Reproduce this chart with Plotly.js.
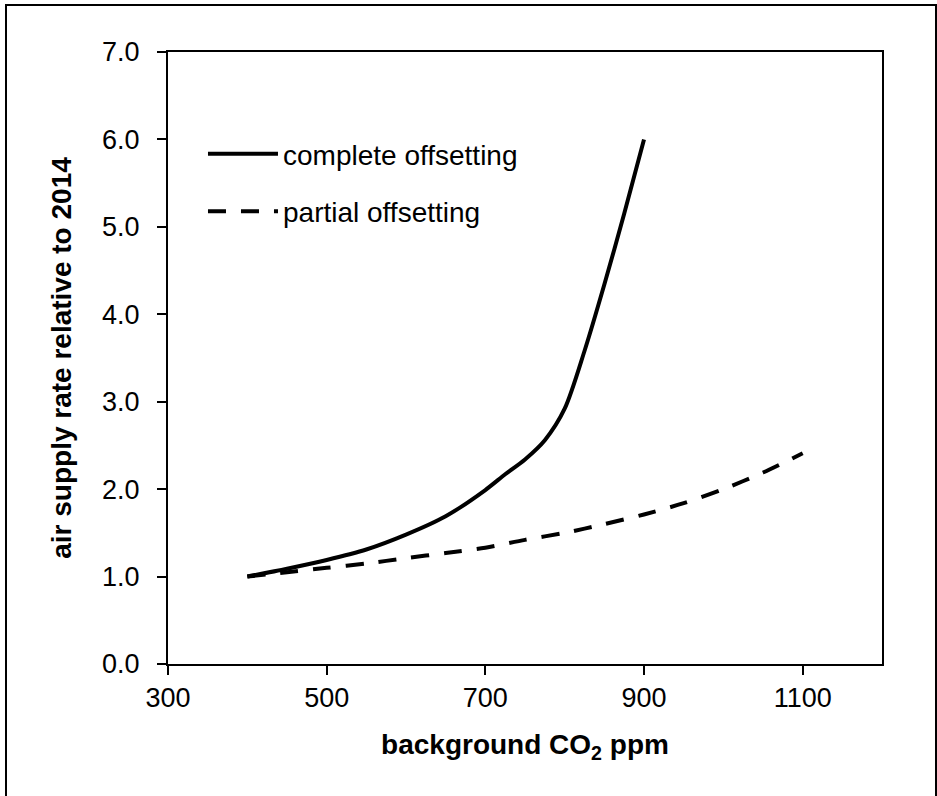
<!DOCTYPE html>
<html>
<head>
<meta charset="utf-8">
<script src="https://cdn.plot.ly/plotly-3.0.1.min.js"></script>
<style>
html,body{margin:0;padding:0;background:#fff;}
#wrap{position:relative;width:937px;height:796px;overflow:hidden;}
#chart{position:absolute;left:0;top:0;width:937px;height:796px;}
#frame{position:absolute;left:5px;top:4px;width:932px;height:800px;border:2px solid #000;box-sizing:border-box;pointer-events:none;}
</style>
</head>
<body>
<div id="wrap"><div id="chart"></div><div id="frame"></div></div>
<script>
// background CO2 (ppm)
const co2Complete = [400, 450, 500, 550, 600, 650, 700, 725, 750, 775, 800, 825, 850, 875, 900];
const rateComplete = [1.0, 1.09, 1.19, 1.31, 1.48, 1.69, 1.99, 2.17, 2.34, 2.56, 2.92, 3.58, 4.34, 5.15, 6.0];
const co2Partial = [400, 450, 500, 550, 600, 650, 700, 750, 800, 850, 900, 950, 1000, 1050, 1100];
const ratePartial = [1.0, 1.05, 1.10, 1.15, 1.21, 1.27, 1.33, 1.42, 1.50, 1.60, 1.71, 1.84, 2.00, 2.19, 2.41];
const seriesNames = ["complete offsetting", "partial offsetting"];
const xTicks = [300, 500, 700, 900, 1100];
const yTicks = [0, 1, 2, 3, 4, 5, 6, 7];

const font = "Liberation Sans, Arial, sans-serif";
const traces = [
  {x: co2Complete, y: rateComplete, name: seriesNames[0], legendgroup: "a", mode: "lines",
   line: {color: "#000", width: 4, shape: "spline", smoothing: 0.8}},
  {x: co2Partial, y: ratePartial, name: seriesNames[1], legendgroup: "b", mode: "lines",
   line: {color: "#000", width: 4, dash: "18px,15px", shape: "spline", smoothing: 0.8}}
];
const layout = {
  width: 937, height: 796,
  margin: {l: 168, r: 55, t: 52, b: 132},
  paper_bgcolor: "#fff", plot_bgcolor: "#fff",
  font: {family: font, size: 27, color: "#000"},
  showlegend: true,
  legend: {x: 0.049, y: 0.874, xanchor: "left", yanchor: "top", bgcolor: "rgba(0,0,0,0)",
           font: {family: font, size: 28, color: "#000"}, itemwidth: 70,
           traceorder: "grouped", tracegroupgap: 18},
  xaxis: {range: [300, 1200], tickvals: xTicks, ticktext: xTicks.map(String),
          showgrid: false, zeroline: false, showline: true, linecolor: "#000", linewidth: 2,
          mirror: true, ticks: "outside", ticklen: 9, tickwidth: 2, tickcolor: "#000",
          tickfont: {family: font, size: 27},
          title: {text: "<b>background CO<sub>2</sub> ppm</b>", font: {family: font, size: 28}, standoff: 22}},
  yaxis: {range: [0, 7], tickvals: yTicks, ticktext: yTicks.map(v => v.toFixed(1)),
          showgrid: false, zeroline: false, showline: true, linecolor: "#000", linewidth: 2,
          mirror: true, ticks: "outside", ticklen: 9, tickwidth: 2, tickcolor: "#000",
          ticklabelstandoff: 12,
          tickfont: {family: font, size: 27},
          title: {text: "<b>air supply rate relative to 2014</b>", font: {family: font, size: 28}, standoff: 22}}
};
Plotly.newPlot("chart", traces, layout, {displayModeBar: false, staticPlot: true});
</script>
</body>
</html>
